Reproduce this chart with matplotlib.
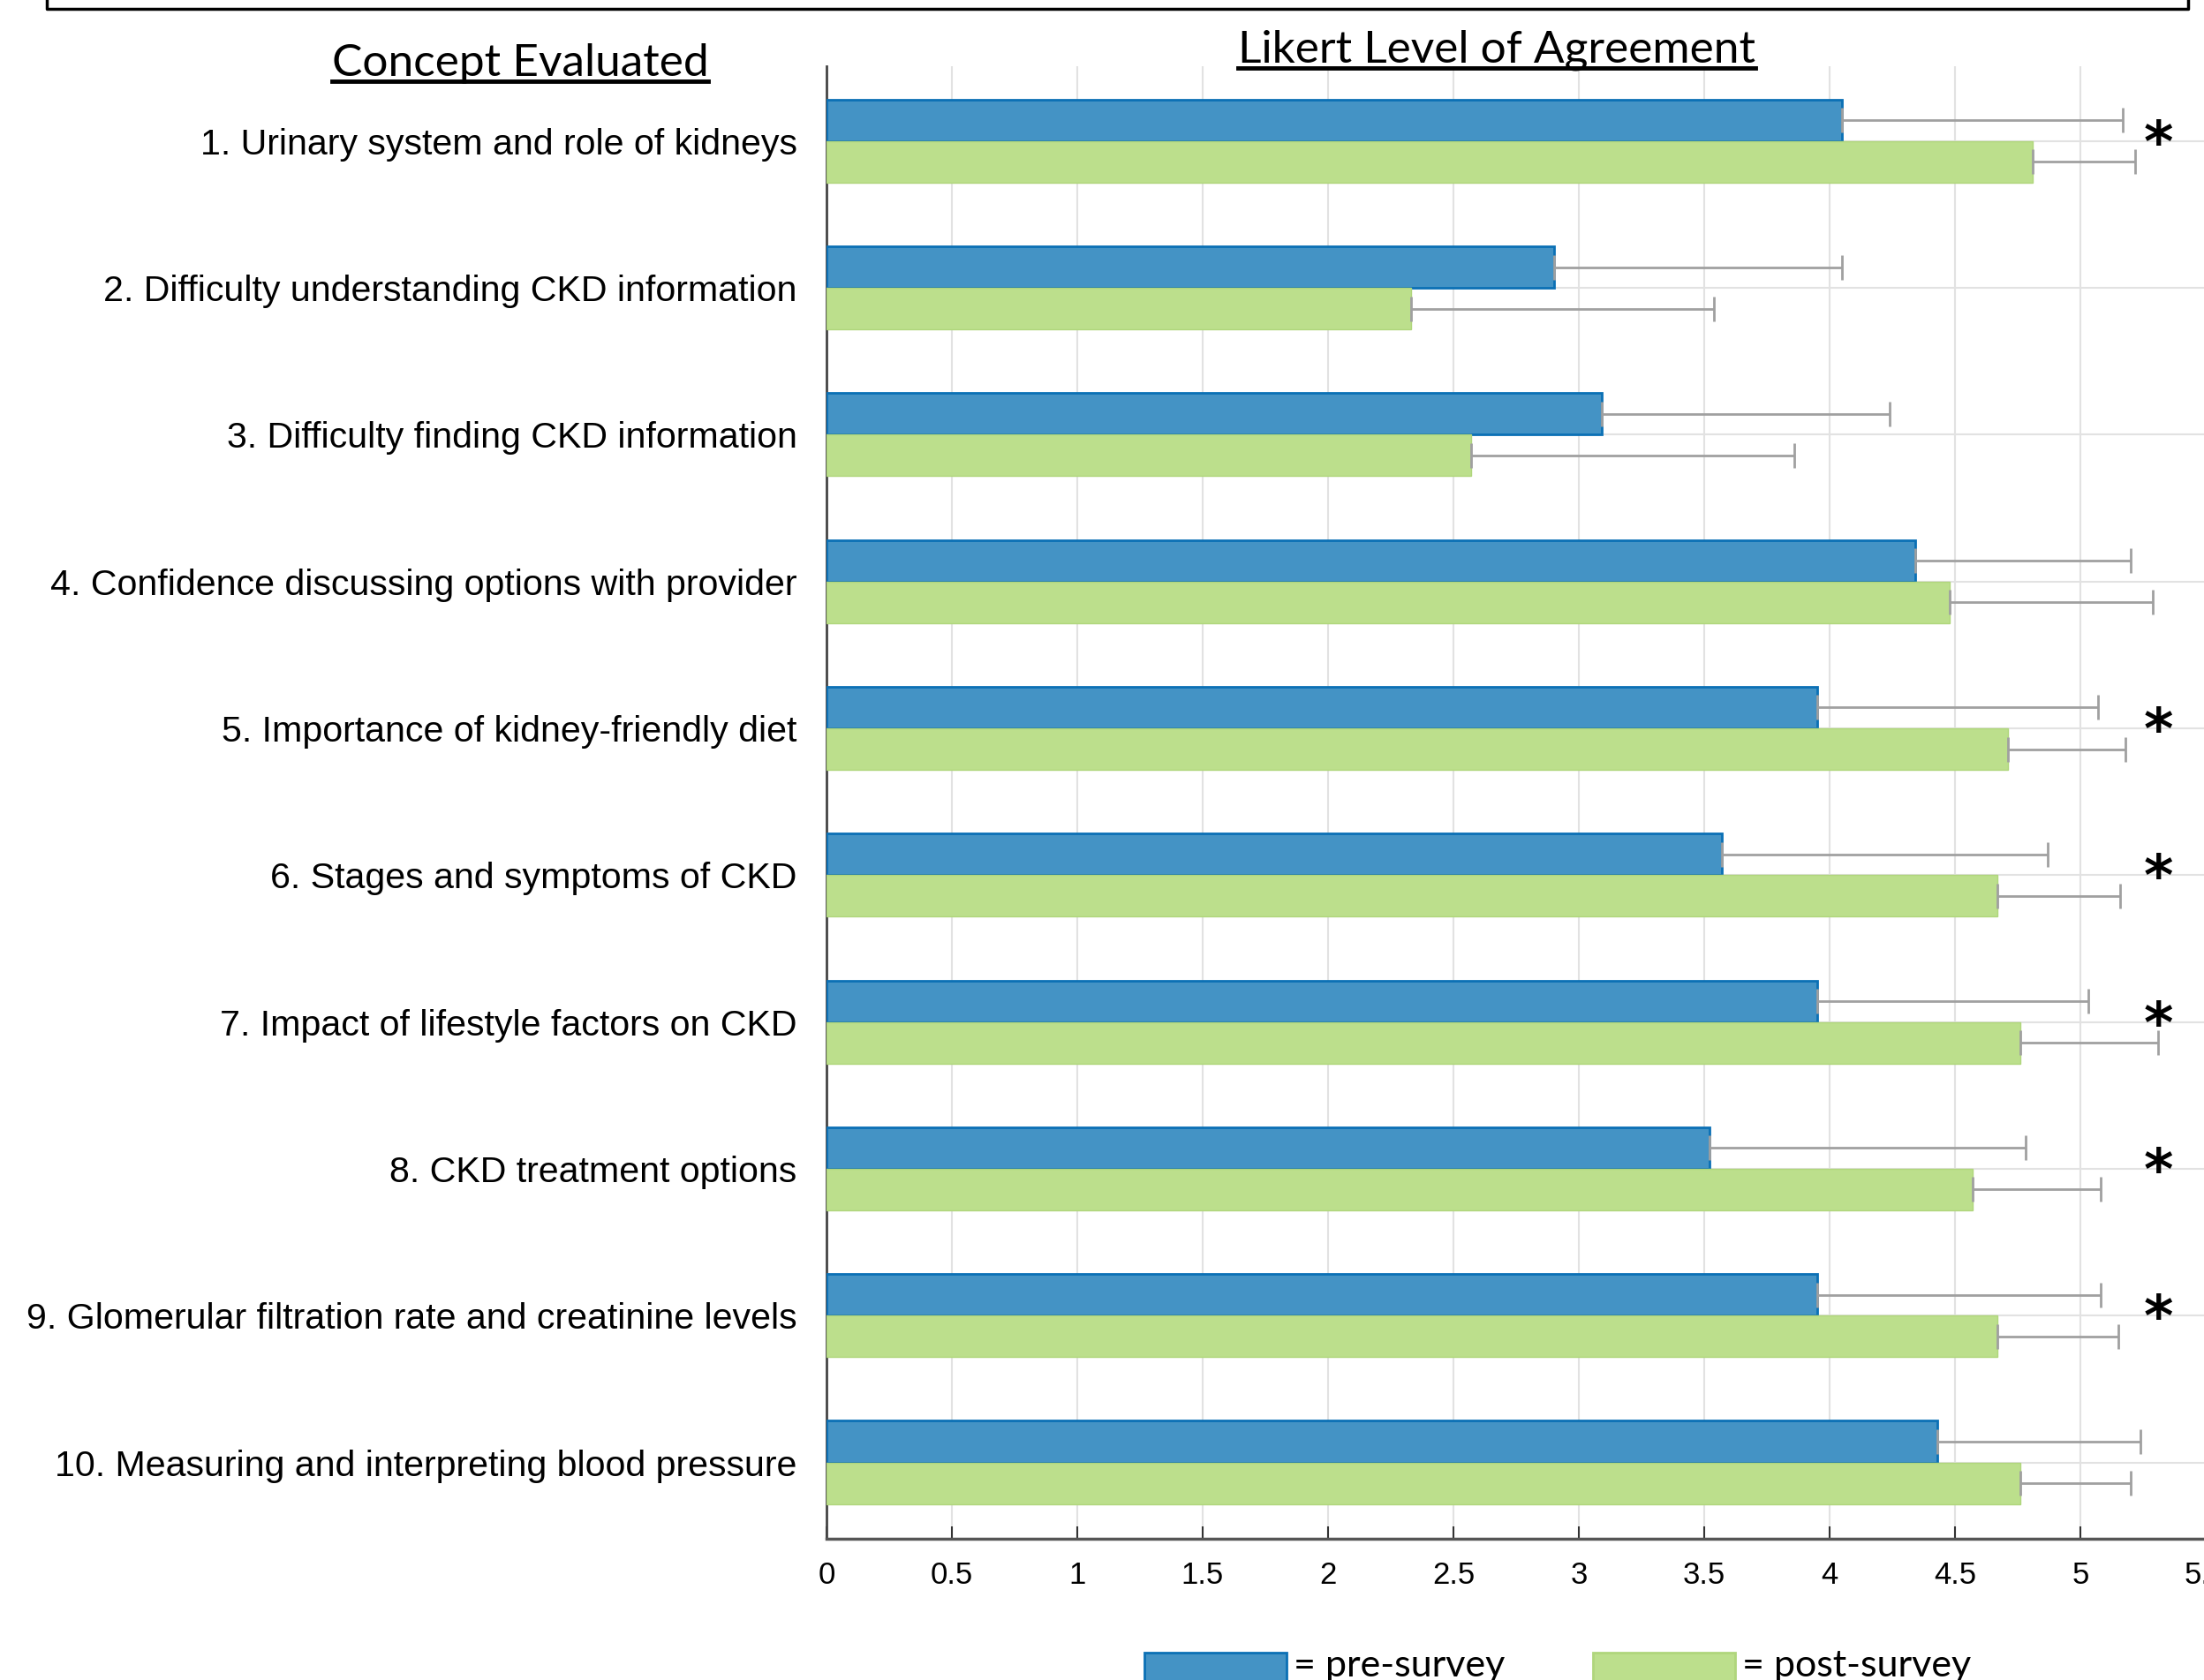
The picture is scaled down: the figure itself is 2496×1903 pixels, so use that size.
import matplotlib
matplotlib.use("Agg")
import matplotlib.pyplot as plt
from matplotlib.patches import Rectangle
from matplotlib.lines import Line2D
import numpy as np

# survey items, top to bottom
concepts = [
    "1. Urinary system and role of kidneys",
    "2. Difficulty understanding CKD information",
    "3. Difficulty finding CKD information",
    "4. Confidence discussing options with provider",
    "5. Importance of kidney-friendly diet",
    "6. Stages and symptoms of CKD",
    "7. Impact of lifestyle factors on CKD",
    "8. CKD treatment options",
    "9. Glomerular filtration rate and creatinine levels",
    "10. Measuring and interpreting blood pressure",
]
pre_mean = [4.05, 2.90, 3.09, 4.34, 3.95, 3.57, 3.95, 3.52, 3.95, 4.43]
pre_sd = [1.12, 1.15, 1.15, 0.86, 1.12, 1.30, 1.08, 1.26, 1.13, 0.81]
post_mean = [4.81, 2.33, 2.57, 4.48, 4.71, 4.67, 4.76, 4.57, 4.67, 4.76]
post_sd = [0.41, 1.21, 1.29, 0.81, 0.47, 0.49, 0.55, 0.51, 0.48, 0.44]
significant = [1, 0, 0, 0, 1, 1, 1, 1, 1, 0]
x_ticks = [0, 0.5, 1, 1.5, 2, 2.5, 3, 3.5, 4, 4.5, 5, 5.5]

BLUE = "#4493C5"
BLUE_EDGE = "#0B70B5"
GREEN = "#BCDF8C"
GREEN_EDGE = "#B0D67C"

W, H = 2496, 1903
fig = plt.figure(figsize=(W / 100, H / 100), dpi=100)


def fx(px):
    return px / W


def fy(py):
    return 1 - py / H


# axes placed in pixels; right side runs past the figure edge like the original
x_max = 5.6
ax_left, ax_top, ax_bottom = 936, 75, 1743
px_per_unit = 284
ax = fig.add_axes([fx(ax_left), fy(ax_bottom), x_max * px_per_unit / W, (ax_bottom - ax_top) / H])

pos = np.arange(1, len(concepts) + 1)
h = 0.283
ax.barh(pos - h / 2, pre_mean, height=h, color=BLUE, edgecolor=BLUE_EDGE, linewidth=2, zorder=3)
ax.barh(pos + h / 2, post_mean, height=h, color=GREEN, edgecolor=GREEN_EDGE, linewidth=1, zorder=3)

# one-sided error bars
zeros = np.zeros(len(concepts))
ax.errorbar(pre_mean, pos - h / 2, xerr=[zeros, pre_sd], fmt="none", ecolor="#A0A0A0",
            elinewidth=2, capsize=10, capthick=2, zorder=4)
ax.errorbar(post_mean, pos + h / 2, xerr=[zeros, post_sd], fmt="none", ecolor="#A0A0A0",
            elinewidth=2, capsize=10, capthick=2, zorder=4)

for p, s in zip(pos, significant):
    if s:
        ax.text(5.31, p + 0.03, "*", fontsize=46, fontweight="bold", ha="center", va="center",
                family="DejaVu Sans", zorder=5)

ax.set_xlim(0, x_max)
ax.set_ylim(10.52, 0.49)
ax.set_xticks(x_ticks)
ax.set_xticklabels(["%g" % t for t in x_ticks], family="Liberation Sans")
ax.set_yticks(pos)
ax.set_yticklabels(concepts, family="Liberation Sans")
ax.set_axisbelow(True)
ax.grid(True, color="#E2E2E2", linewidth=1.5)

for side in ["top", "right"]:
    ax.spines[side].set_visible(False)
ax.spines["left"].set_color("#444444")
ax.spines["left"].set_linewidth(2)
ax.spines["bottom"].set_color("#555555")
ax.spines["bottom"].set_linewidth(2.5)
ax.tick_params(axis="y", direction="in", length=12, width=2, color="#222222", pad=24, labelsize=29.6)
ax.tick_params(axis="x", direction="in", length=10, width=1.5, color="#333333", pad=18, labelsize=25)

# column headers with underline (text x, baseline y, underline y)
headers = [
    ("Concept Evaluated", 589, 86, 92),
    ("Likert Level of Agreement", 1695, 71, 77),
]
head_texts = []
for label, x, y, uy in headers:
    t = fig.text(fx(x), fy(y), label, fontsize=37, family="Lato", ha="center", va="baseline")
    head_texts.append((t, uy))

fig.canvas.draw()
renderer = fig.canvas.get_renderer()
for t, uy in head_texts:
    bb = t.get_window_extent(renderer)
    fig.add_artist(Line2D([bb.x0 / W, bb.x1 / W], [fy(uy), fy(uy)], color="black", linewidth=3.5))

# frame edge at the very top
fig.add_artist(Line2D([fx(53), fx(53), fx(2478), fx(2478)], [fy(0), fy(10), fy(10), fy(0)],
                      color="black", linewidth=2.5))

# legend at the bottom, cut by the figure edge
legend_items = [
    (1296, BLUE, BLUE_EDGE, "= pre-survey"),
    (1804, GREEN, GREEN_EDGE, "= post-survey"),
]
for x0, fc, ec, label in legend_items:
    fig.add_artist(Rectangle((fx(x0), fy(1920)), 161 / W, 48 / H, facecolor=fc, edgecolor=ec,
                             linewidth=2))
    fig.text(fx(x0 + 169), fy(1899), label, fontsize=31, family="Lato", ha="left", va="baseline")

fig.savefig("out.png", dpi=100)
